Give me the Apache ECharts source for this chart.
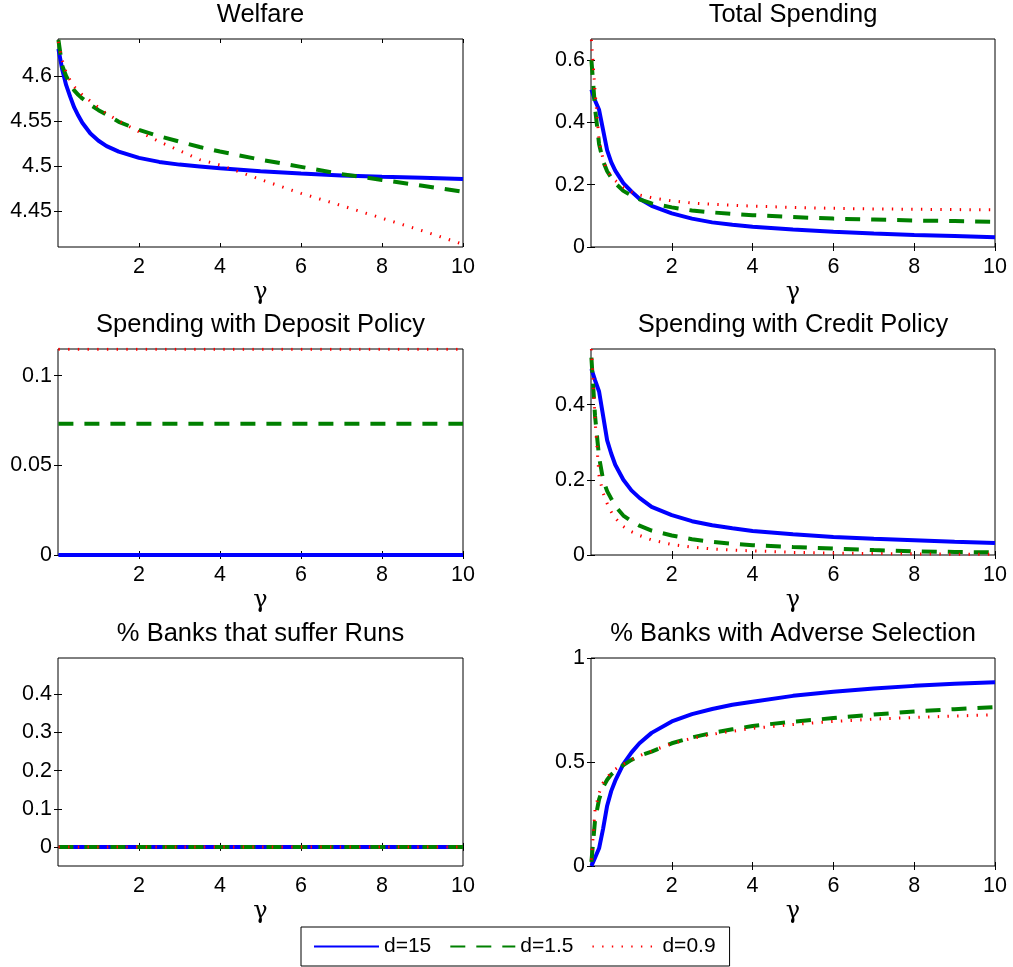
<!DOCTYPE html>
<html>
<head>
<meta charset="utf-8">
<script src="https://cdn.jsdelivr.net/npm/echarts@6/dist/echarts.min.js"></script>
<style>html,body{margin:0;padding:0;background:#fff;}#c{width:1013px;height:967px;}</style>
</head>
<body>
<div id="c"></div>
<script>
// ---------- data ----------
const gamma = [0.01,0.1,0.2,0.3,0.4,0.5,0.6,0.8,1.0,1.2,1.5,2,2.5,3,3.5,4,5,6,7,8,9,10];

const welfare_d15  = [4.630,4.608,4.590,4.577,4.565,4.556,4.548,4.536,4.528,4.522,4.516,4.509,4.5045,4.5015,4.4995,4.4975,4.494,4.4915,4.4895,4.488,4.4868,4.4856];
const welfare_d1_5 = [4.640,4.612,4.600,4.591,4.584,4.579,4.575,4.568,4.562,4.557,4.549,4.540,4.533,4.527,4.521,4.516,4.507,4.499,4.491,4.4845,4.478,4.4714];
const welfare_d0_9 = [4.638,4.618,4.604,4.595,4.588,4.583,4.579,4.572,4.565,4.558,4.550,4.538,4.527,4.517,4.507,4.501,4.485,4.4696,4.456,4.442,4.428,4.413];

const total_d15  = [0.505,0.470,0.440,0.375,0.310,0.272,0.245,0.205,0.178,0.155,0.132,0.108,0.091,0.079,0.071,0.065,0.056,0.049,0.043,0.0385,0.035,0.031];
const total_d1_5 = [0.600,0.445,0.330,0.275,0.243,0.223,0.205,0.180,0.165,0.153,0.140,0.127,0.117,0.111,0.106,0.102,0.096,0.091,0.088,0.085,0.083,0.081];
const total_d0_9 = [0.665,0.500,0.340,0.280,0.245,0.228,0.213,0.192,0.177,0.167,0.158,0.148,0.141,0.137,0.134,0.131,0.127,0.124,0.122,0.121,0.120,0.119];

const deposit_d15  = [0,0,0,0,0,0,0,0,0,0,0,0,0,0,0,0,0,0,0,0,0,0];
const deposit_d1_5 = [0.0732,0.0732,0.0732,0.0732,0.0732,0.0732,0.0732,0.0732,0.0732,0.0732,0.0732,0.0732,0.0732,0.0732,0.0732,0.0732,0.0732,0.0732,0.0732,0.0732,0.0732,0.0732];
const deposit_d0_9 = [0.1148,0.1148,0.1148,0.1148,0.1148,0.1148,0.1148,0.1148,0.1148,0.1148,0.1148,0.1148,0.1148,0.1148,0.1148,0.1148,0.1148,0.1148,0.1148,0.1148,0.1148,0.1148];

const credit_d15  = [0.495,0.465,0.435,0.370,0.305,0.270,0.240,0.200,0.172,0.152,0.128,0.106,0.090,0.079,0.071,0.064,0.055,0.048,0.043,0.039,0.035,0.032];
const credit_d1_5 = [0.525,0.370,0.260,0.200,0.170,0.150,0.130,0.105,0.090,0.078,0.065,0.052,0.042,0.035,0.030,0.026,0.021,0.017,0.013,0.010,0.008,0.007];
const credit_d0_9 = [0.548,0.360,0.210,0.165,0.137,0.115,0.098,0.076,0.062,0.052,0.040,0.028,0.021,0.016,0.013,0.011,0.007,0.005,0.004,0.003,0.002,0.002];

const runs_d15  = [0,0,0,0,0,0,0,0,0,0,0,0,0,0,0,0,0,0,0,0,0,0];
const runs_d1_5 = [0,0,0,0,0,0,0,0,0,0,0,0,0,0,0,0,0,0,0,0,0,0];
const runs_d0_9 = [0,0,0,0,0,0,0,0,0,0,0,0,0,0,0,0,0,0,0,0,0,0];

const adverse_d15  = [0.000,0.040,0.085,0.180,0.290,0.360,0.410,0.490,0.545,0.590,0.640,0.695,0.730,0.755,0.775,0.790,0.818,0.838,0.853,0.866,0.876,0.884];
const adverse_d1_5 = [0.020,0.220,0.320,0.380,0.415,0.440,0.455,0.485,0.510,0.530,0.550,0.590,0.618,0.640,0.657,0.673,0.694,0.711,0.728,0.743,0.754,0.764];
const adverse_d0_9 = [0.030,0.270,0.350,0.400,0.425,0.450,0.465,0.490,0.512,0.530,0.553,0.588,0.614,0.633,0.648,0.662,0.680,0.695,0.706,0.714,0.721,0.727];

const seriesNames = ['d=15','d=1.5','d=0.9'];
const panelTitles = ['Welfare','Total Spending','Spending with Deposit Policy','Spending with Credit Policy','% Banks that suffer Runs','% Banks with Adverse Selection'];
const xTicks = [2,4,6,8,10];
const yTicks = [
  [4.45,4.5,4.55,4.6],
  [0,0.2,0.4,0.6],
  [0,0.05,0.1],
  [0,0.2,0.4],
  [0,0.1,0.2,0.3,0.4],
  [0,0.5,1]
];
const yMin = [4.41, 0, 0, 0, -0.05, 0];
const yMax = [4.641, 0.667, 0.1149, 0.548, 0.495, 1];
const panelData = [
  [welfare_d15, welfare_d1_5, welfare_d0_9],
  [total_d15, total_d1_5, total_d0_9],
  [deposit_d15, deposit_d1_5, deposit_d0_9],
  [credit_d15, credit_d1_5, credit_d0_9],
  [runs_d15, runs_d1_5, runs_d0_9],
  [adverse_d15, adverse_d1_5, adverse_d0_9]
];

// ---------- layout / style ----------
const FONT = 'Liberation Sans, Arial, Helvetica, sans-serif';
const grids = [
  {left:58, top:39, width:405, height:208},
  {left:591, top:39, width:404, height:208},
  {left:58, top:349, width:405, height:206},
  {left:591, top:349, width:404, height:206},
  {left:58, top:658, width:405, height:208},
  {left:591, top:658, width:404, height:208}
];
const lineStyles = [
  {color:'#0000ff', width:4, type:'solid'},
  {color:'#008000', width:4, type:[15,11]},
  {color:'#ff0000', width:3, type:[1.4,8.3]}
];

const xAxes = [], yAxes = [], titles = [], series = [];
function ticks(vals){ return {show:true, inside:true, length:4, customValues:vals, lineStyle:{color:'#000', width:1}}; }
grids.forEach((g, i) => {
  g.show = true; g.borderColor = '#000'; g.borderWidth = 1; g.backgroundColor = '#fff';
  xAxes.push({
    type:'value', gridIndex:i, min:0, max:10, position:'bottom',
    axisLine:{show:false}, splitLine:{show:false},
    axisTick:ticks(xTicks),
    axisLabel:{customValues:xTicks, color:'#000', fontSize:21.5, fontFamily:FONT, margin:9},
    name:'γ', nameLocation:'middle', nameGap:34,
    nameTextStyle:{color:'#000', fontSize:24, fontFamily:'DejaVu Serif, Liberation Serif, serif'}
  });
  xAxes.push({
    type:'value', gridIndex:i, min:0, max:10, position:'top',
    axisLine:{show:false}, splitLine:{show:false},
    axisTick:ticks(xTicks),
    axisLabel:{show:false}
  });
  yAxes.push({
    type:'value', gridIndex:i, min:yMin[i], max:yMax[i], position:'left',
    axisLine:{show:false}, splitLine:{show:false},
    axisTick:ticks(yTicks[i]),
    axisLabel:{customValues:yTicks[i], color:'#000', fontSize:21.5, fontFamily:FONT, margin:6}
  });
  yAxes.push({
    type:'value', gridIndex:i, min:yMin[i], max:yMax[i], position:'right',
    axisLine:{show:false}, splitLine:{show:false},
    axisTick:ticks(yTicks[i]),
    axisLabel:{show:false}
  });
  titles.push({
    text: panelTitles[i], left: g.left + g.width/2, top: g.top - 37, textAlign:'center', padding:0,
    textStyle:{color:'#000', fontSize:25.5, fontWeight:'normal', fontFamily:FONT}
  });
  panelData[i].forEach((arr, k) => {
    series.push({
      type:'line', name: seriesNames[k], xAxisIndex: 2*i, yAxisIndex: 2*i,
      data: gamma.map((x, j) => [x, arr[j]]),
      showSymbol:false, symbol:'none', smooth:false, animation:false,
      lineStyle: Object.assign({}, lineStyles[k]), itemStyle:{color: lineStyles[k].color},
      z: 2 + k
    });
  });
});

const chart = echarts.init(document.getElementById('c'), null, {renderer:'canvas'});
chart.setOption({
  animation:false,
  backgroundColor:'#fff',
  title: titles,
  grid: grids,
  xAxis: xAxes,
  yAxis: yAxes,
  legend: {
    data: seriesNames, left:301, top:927, orient:'horizontal',
    itemWidth:65, itemHeight:14, itemGap:18, padding:[9,14,9,12],
    borderColor:'#000', borderWidth:1, backgroundColor:'#fff',
    itemStyle:{color:'rgba(0,0,0,0)', borderColor:'rgba(0,0,0,0)', borderWidth:0, opacity:0},
    textStyle:{color:'#000', fontSize:21, fontFamily:FONT}, selectedMode:false
  },
  series: series
});
</script>
</body>
</html>
